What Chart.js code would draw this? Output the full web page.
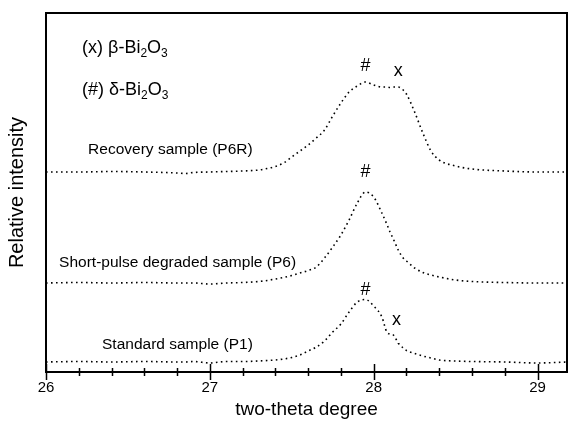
<!DOCTYPE html>
<html>
<head>
<meta charset="utf-8">
<script src="https://cdn.jsdelivr.net/npm/chart.js@4/dist/chart.umd.min.js"></script>
<style>
  html, body { margin: 0; padding: 0; background: #fff; }
  #wrap { width: 569px; height: 422px; }
</style>
</head>
<body>
<div id="wrap"><canvas id="grafica"></canvas></div>
<script>
const FONT = "'Liberation Sans', Arial, sans-serif";

// two-theta (degrees)
const theta = [26.0, 26.2, 26.4, 26.6, 26.8, 26.85, 26.9, 27.0, 27.1, 27.2, 27.3, 27.35, 27.4, 27.45,
  27.5, 27.55, 27.6, 27.65, 27.7, 27.75, 27.8, 27.85, 27.9, 27.95, 28.0, 28.05, 28.08, 28.1, 28.12,
  28.15, 28.18, 28.2, 28.25, 28.3, 28.35, 28.4, 28.5, 28.6, 28.8, 29.0, 29.18];

// relative intensity (stacked, arbitrary units)
const recoveryP6R = [200, 200, 200.5, 200, 199, 198.5, 199.5, 200, 200.5, 201, 202, 203.5, 205.5, 209,
  215, 221, 227, 234, 242, 256, 269, 280, 286, 290, 287, 285, 285, 284.5, 285,
  285, 282, 278, 260, 239, 221, 212, 206, 203, 201, 200, 200];
const shortPulseP6 = [89, 89.5, 89, 89.5, 89, 89, 89, 88, 89, 89.5, 90.5, 91.5, 93, 94.5,
  96.5, 99, 101.5, 105, 114, 125, 137, 152, 169, 180, 175, 159, 148, 140, 133,
  122, 114, 111, 104, 99.5, 97, 95, 92, 90.5, 89.5, 89, 89];
const standardP1 = [10, 10.5, 10, 10.5, 10, 10, 10.5, 9, 10.5, 10.5, 11, 11.5, 12, 13,
  14.5, 17, 21, 25, 31, 40, 48, 60, 70, 72.5, 66, 55, 40, 38, 37,
  29, 24, 21.5, 18.5, 16, 14, 12, 11, 10.5, 10, 9, 10];

// x tick positions (labels only on whole degrees)
const xTicks = [26, 26.2, 26.4, 26.6, 26.8, 27, 27.2, 27.4, 27.6, 27.8, 28,
  28.2, 28.4, 28.6, 28.8, 29];

// text labels: [text, theta, intensity]
const sampleLabels = [
  ["Recovery sample (P6R)", 26.257, 222],
  ["Short-pulse degraded sample (P6)", 26.08, 109],
  ["Standard sample (P1)", 26.342, 27]
];
const peakMarks = [
  ["#", 27.95, 306], ["x", 28.15, 301],
  ["#", 27.95, 200],
  ["#", 27.95, 82], ["x", 28.14, 52]
];
const phaseLegend = [
  ["(x) β-Bi", 26.22, 324],
  ["(#) δ-Bi", 26.22, 282]
];

function pts(ys) { return theta.map((t, i) => ({ x: t, y: ys[i] })); }

function serie(ys) {
  return {
    data: pts(ys),
    borderColor: '#000',
    borderWidth: 1.6,
    borderDash: [1.6, 3.4],
    pointRadius: 0,
    fill: false,
    cubicInterpolationMode: 'monotone'
  };
}

const extras = {
  id: 'extras',
  afterDraw(chart) {
    const ctx = chart.ctx, a = chart.chartArea;
    const sx = chart.scales.x, sy = chart.scales.y;
    ctx.save();
    // frame
    ctx.strokeStyle = '#000';
    ctx.lineWidth = 2;
    ctx.strokeRect(a.left, a.top, a.right - a.left, a.bottom - a.top);
    // ticks crossing the axis
    ctx.lineWidth = 1.5;
    sx.ticks.forEach(t => {
      const px = Math.round(sx.getPixelForValue(t.value)) + 0.5;
      const major = Math.abs(t.value - Math.round(t.value)) < 1e-6;
      const h = major ? 8 : 4;
      ctx.beginPath();
      ctx.moveTo(px, a.bottom - h);
      ctx.lineTo(px, a.bottom + h);
      ctx.stroke();
    });
    ctx.fillStyle = '#000';
    ctx.textBaseline = 'middle';
    // sample labels
    ctx.font = '15.5px ' + FONT;
    ctx.textAlign = 'left';
    sampleLabels.forEach(([s, x, y]) => ctx.fillText(s, sx.getPixelForValue(x), sy.getPixelForValue(y)));
    // peak marks
    ctx.font = '18px ' + FONT;
    ctx.textAlign = 'center';
    peakMarks.forEach(([s, x, y]) => ctx.fillText(s, sx.getPixelForValue(x), sy.getPixelForValue(y)));
    // phase legend with subscripts
    ctx.textAlign = 'left';
    phaseLegend.forEach(([s, x, y]) => {
      let px = sx.getPixelForValue(x);
      const py = sy.getPixelForValue(y);
      ctx.font = '18px ' + FONT;
      ctx.fillText(s, px, py);
      px += ctx.measureText(s).width;
      ctx.font = '12px ' + FONT;
      ctx.fillText('2', px, py + 6);
      px += ctx.measureText('2').width;
      ctx.font = '18px ' + FONT;
      ctx.fillText('O', px, py);
      px += ctx.measureText('O').width;
      ctx.font = '12px ' + FONT;
      ctx.fillText('3', px, py + 6);
    });
    ctx.restore();
  }
};

new Chart(document.querySelector('#grafica'), {
  type: 'line',
  data: {
    datasets: [serie(recoveryP6R), serie(shortPulseP6), serie(standardP1)]
  },
  options: {
    responsive: true,
    maintainAspectRatio: false,
    animation: false,
    layout: { padding: { top: 13, right: 2, left: 0, bottom: 0 } },
    plugins: { legend: { display: false }, tooltip: { enabled: false } },
    scales: {
      x: {
        type: 'linear',
        min: 26,
        max: 29.18,
        border: { display: false },
        grid: { display: false, drawTicks: false },
        afterBuildTicks: s => { s.ticks = xTicks.map(v => ({ value: v })); },
        afterFit: s => { s.height = 50; },
        ticks: {
          autoSkip: false,
          maxRotation: 0,
          padding: 7,
          color: '#000',
          font: { family: FONT, size: 15 },
          callback: v => Math.abs(v - Math.round(v)) < 1e-6 ? String(Math.round(v)) : ''
        },
        title: {
          display: true,
          text: 'two-theta degree',
          color: '#000',
          font: { family: FONT, size: 19 },
          padding: { top: 2, bottom: 1 }
        }
      },
      y: {
        min: 0,
        max: 359,
        border: { display: false },
        grid: { display: false, drawTicks: false },
        ticks: { display: false },
        afterFit: s => { s.width = 46; },
        title: {
          display: true,
          text: 'Relative intensity',
          color: '#000',
          font: { family: FONT, size: 20 },
          padding: { top: 5, bottom: 17 }
        }
      }
    }
  },
  plugins: [extras]
});
</script>
</body>
</html>
